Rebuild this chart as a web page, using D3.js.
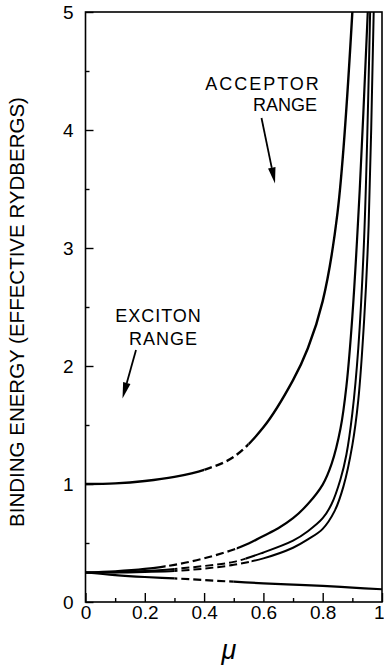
<!DOCTYPE html>
<html>
<head>
<meta charset="utf-8">
<script src="https://cdn.jsdelivr.net/npm/d3@7"></script>
<style>
  html, body { margin: 0; padding: 0; background: #fff; }
  svg text { font-family: "Liberation Sans", Arial, sans-serif; fill: #000; }
</style>
</head>
<body>
<div id="chart"></div>
<script>
'use strict';

// exciton curve (top)
const excitonMu = [0, 0.1, 0.2, 0.3, 0.4, 0.5, 0.6, 0.7, 0.75, 0.8, 0.85, 0.9];
const excitonE = [1.0, 1.005, 1.025, 1.06, 1.12, 1.23, 1.48, 1.88, 2.15, 2.55, 3.3, 5.0];

// acceptor curves
const acc1Mu = [0, 0.1, 0.2, 0.3, 0.4, 0.5, 0.55, 0.6, 0.65, 0.7, 0.75, 0.8, 0.83, 0.86, 0.88, 0.9, 0.925, 0.952];
const acc1E = [0.25, 0.26, 0.28, 0.315, 0.37, 0.445, 0.495, 0.56, 0.625, 0.71, 0.83, 0.995, 1.17, 1.47, 1.83, 2.42, 3.5, 5.0];

const acc2Mu = [0, 0.1, 0.2, 0.3, 0.4, 0.5, 0.6, 0.7, 0.75, 0.8, 0.83, 0.86, 0.88, 0.9, 0.92, 0.94, 0.96];
const acc2E = [0.25, 0.253, 0.262, 0.28, 0.305, 0.34, 0.42, 0.52, 0.6, 0.71, 0.83, 1.04, 1.25, 1.6, 2.15, 3.1, 5.0];

const acc3Mu = [0, 0.1, 0.2, 0.3, 0.4, 0.5, 0.6, 0.7, 0.75, 0.8, 0.84, 0.87, 0.9, 0.92, 0.94, 0.955, 0.972];
const acc3E = [0.25, 0.25, 0.255, 0.263, 0.283, 0.315, 0.37, 0.46, 0.53, 0.62, 0.77, 0.98, 1.33, 1.71, 2.4, 3.2, 5.0];

// lower, falling curve
const lowMu = [0, 0.1, 0.2, 0.3, 0.4, 0.5, 0.6, 0.7, 0.8, 0.9, 1.0];
const lowE = [0.25, 0.228, 0.212, 0.2, 0.186, 0.172, 0.158, 0.147, 0.136, 0.122, 0.108];

// mu range drawn dashed on each curve
const excitonDash = [0.4, 0.55];
const acc1Dash = [0.27, 0.51];
const acc2Dash = [0.3, 0.54];
const acc3Dash = [0.3, 0.56];
const lowDash = [0.3, 0.5];

const xTicks = [0, 0.2, 0.4, 0.6, 0.8, 1];
const xTickLabels = ['0', '0.2', '0.4', '0.6', '0.8', '1'];
const xMinorTicks = [0.1, 0.3, 0.5, 0.7, 0.9];
const yTicks = [0, 1, 2, 3, 4, 5];
const yTickLabels = ['0', '1', '2', '3', '4', '5'];
const yMinorTicks = [0.5, 1.5, 2.5, 3.5, 4.5];

const yTitle = 'BINDING ENERGY (EFFECTIVE RYDBERGS)';
const xTitle = '\u03bc';
const excitonLabel = ['EXCITON', 'RANGE'];
const acceptorLabel = ['ACCEPTOR', 'RANGE'];


const W = 384, H = 666;
const margin = {left: 85.5, right: 2, top: 12, bottom: 64};

const svg = d3.select('#chart').append('svg')
    .attr('width', W)
    .attr('height', H);

const x = d3.scaleLinear().domain([0, 1]).range([margin.left, W - margin.right]);
const y = d3.scaleLinear().domain([0, 5]).range([H - margin.bottom, margin.top]);

// axes, ticks pointing inward
svg.append('g')
    .attr('transform', 'translate(0,' + y(0) + ')')
    .call(d3.axisBottom(x).tickValues(xTicks)
        .tickFormat((d, i) => xTickLabels[i])
        .tickSize(-9).tickPadding(3));
svg.append('g')
    .attr('transform', 'translate(0,' + y(0) + ')')
    .call(d3.axisBottom(x).tickValues(xMinorTicks).tickFormat('').tickSize(-4));

svg.append('g')
    .attr('transform', 'translate(' + x(0) + ',0)')
    .call(d3.axisLeft(y).tickValues(yTicks)
        .tickFormat((d, i) => yTickLabels[i])
        .tickSize(-8).tickPadding(12));
svg.append('g')
    .attr('transform', 'translate(' + x(0) + ',0)')
    .call(d3.axisLeft(y).tickValues(yMinorTicks).tickFormat('').tickSize(-4));

svg.selectAll('.domain').remove();
svg.selectAll('.tick line').attr('stroke', '#000').attr('stroke-width', 1.4);
svg.selectAll('.tick text').style('font-size', '19px');
// last x label sits on the right edge of the picture
svg.selectAll('.tick text')
    .filter(function() { return this.textContent === '1' && this.getAttribute('y') > 0; })
    .attr('text-anchor', 'end')
    .attr('x', W - x(1));

// frame
svg.append('rect')
    .attr('x', x(0)).attr('y', y(5))
    .attr('width', x(1) - x(0)).attr('height', y(0) - y(5))
    .attr('fill', 'none').attr('stroke', '#000').attr('stroke-width', 1.6);

// curves
const defs = svg.append('defs');
const line = d3.line()
    .x(d => x(d[0]))
    .y(d => y(d[1]))
    .curve(d3.curveCatmullRom.alpha(0.5));

const curves = [
    {mu: excitonMu, e: excitonE, dash: excitonDash, w: 2.4},
    {mu: acc1Mu, e: acc1E, dash: acc1Dash, w: 2.2},
    {mu: acc2Mu, e: acc2E, dash: acc2Dash, w: 2.0},
    {mu: acc3Mu, e: acc3E, dash: acc3Dash, w: 2.0},
    {mu: lowMu, e: lowE, dash: lowDash, w: 2.2}
];

curves.forEach((c, i) => {
    const pts = d3.zip(c.mu, c.e);
    // solid part: plot area minus the dashed span
    const solid = defs.append('clipPath').attr('id', 'solid' + i);
    solid.append('rect')
        .attr('x', x(0) - 5).attr('y', y(5))
        .attr('width', x(c.dash[0]) - x(0) + 5).attr('height', y(0) - y(5));
    solid.append('rect')
        .attr('x', x(c.dash[1])).attr('y', y(5))
        .attr('width', x(1) - x(c.dash[1])).attr('height', y(0) - y(5));
    const dashed = defs.append('clipPath').attr('id', 'dash' + i);
    dashed.append('rect')
        .attr('x', x(c.dash[0])).attr('y', y(5))
        .attr('width', x(c.dash[1]) - x(c.dash[0])).attr('height', y(0) - y(5));

    svg.append('path')
        .datum(pts)
        .attr('d', line)
        .attr('fill', 'none').attr('stroke', '#000')
        .attr('stroke-width', c.w)
        .attr('clip-path', 'url(#solid' + i + ')');
    svg.append('path')
        .datum(pts)
        .attr('d', line)
        .attr('fill', 'none').attr('stroke', '#000')
        .attr('stroke-width', c.w)
        .attr('stroke-dasharray', '8,4')
        .attr('clip-path', 'url(#dash' + i + ')');
});

// titles
svg.append('text')
    .attr('transform', 'translate(24,312) rotate(-90)')
    .attr('text-anchor', 'middle')
    .style('font-size', '20.5px')
    .text(yTitle);

svg.append('text')
    .attr('x', 229).attr('y', 659)
    .attr('text-anchor', 'middle')
    .style('font-size', '27px')
    .style('font-style', 'italic')
    .text(xTitle);

// annotations
function label(lines, xs, ys, spacing) {
    lines.forEach((t, i) => {
        svg.append('text')
            .attr('x', xs[i]).attr('y', ys[i])
            .attr('text-anchor', 'middle')
            .style('font-size', '18px')
            .style('letter-spacing', spacing[i] + 'px')
            .text(t);
    });
}
label(excitonLabel, [158.5, 163.5], [321.5, 345], [1, 1]);
label(acceptorLabel, [263, 285], [89.5, 110.5], [2, 0]);

function arrow(x1, y1, x2, y2) {
    const ang = Math.atan2(y2 - y1, x2 - x1);
    const len = 16, half = 3.8;
    const bx = x2 - len * Math.cos(ang), by = y2 - len * Math.sin(ang);
    svg.append('line')
        .attr('x1', x1).attr('y1', y1).attr('x2', bx).attr('y2', by)
        .attr('stroke', '#000').attr('stroke-width', 1.8);
    svg.append('path')
        .attr('d', d3.line()([
            [x2, y2],
            [bx + half * Math.sin(ang), by - half * Math.cos(ang)],
            [bx - half * Math.sin(ang), by + half * Math.cos(ang)]
        ]) + 'Z')
        .attr('fill', '#000');
}
arrow(136, 350, 122.5, 398.5);
arrow(261.5, 118, 275, 183.5);
</script>
</body>
</html>
